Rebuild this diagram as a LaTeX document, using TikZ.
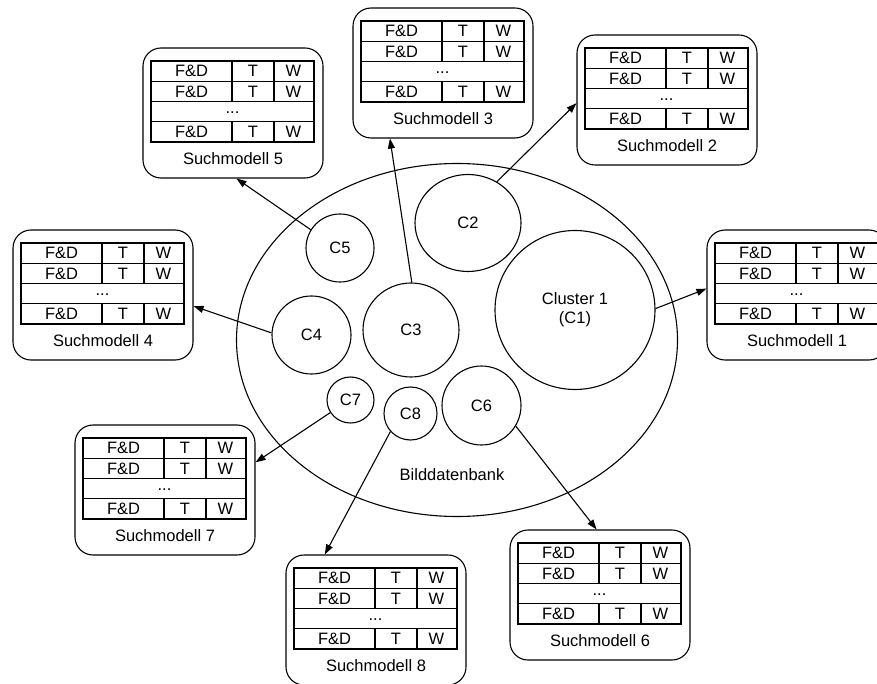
\documentclass[tikz,border=0pt]{standalone}
\usepackage{fontspec}
\setmainfont{Liberation Sans}
\usetikzlibrary{arrows.meta,shapes.geometric}

\begin{document}
\begin{tikzpicture}[
        x=1pt, y=-1pt,
        font=\fontsize{16.5}{19}\selectfont,
        lw/.style={line width=1.1pt},
        cluster/.style={
            draw,
            ellipse,
            lw,
            inner sep=0pt,
            align=center
        },
        modelbox/.style={
            draw,
            lw,
            rounded corners=18pt,
            minimum width=180pt,
            minimum height=130pt,
            inner sep=0pt
        },
        cell/.style={inner sep=0pt},
        arrow/.style={-{Triangle[length=10pt,width=7pt]}, lw}
    ]
        \useasboundingbox (0,0) rectangle (877,684);
        \clip (0,0) rectangle (877,684);

        % database with its clusters
        \node[cluster, minimum width=441pt, minimum height=353pt] (db) at (457,340) {};
        \node (dbname) at (452,475) {Bilddatenbank};
        \node[cluster, minimum width=160pt, minimum height=159pt] (c1) at (575,310) {Cluster 1\\(C1)};
        \node[cluster, minimum width=106pt, minimum height=97pt] (c2) at (468,223) {C2};
        \node[cluster, minimum width=96pt, minimum height=94pt] (c3) at (411,330) {C3};
        \node[cluster, minimum width=79pt, minimum height=78pt] (c4) at (311.5,335) {C4};
        \node[cluster, minimum width=68pt, minimum height=68pt] (c5) at (340,248) {C5};
        \node[cluster, minimum width=79pt, minimum height=79pt] (c6) at (481.5,405.5) {C6};
        \node[cluster, minimum width=47pt, minimum height=46pt] (c7) at (350.5,400) {C7};
        \node[cluster, minimum width=53pt, minimum height=53pt] (c8) at (410.5,413.5) {C8};

        % search models
        \foreach \n/\x/\y in {1/707/230, 2/577/35, 3/353/8, 4/13/230, 5/143/48, 6/510/530, 7/75/425, 8/286/555} {
            \node[modelbox] (sm\n) at (\x+90,\y+65) {};
            \begin{scope}[shift={(\x+8,\y+13)}]
                \draw[lw] (0,0) rectangle (163,81);
                \draw[lw] (0,20.25) -- (163,20.25) (0,40.5) -- (163,40.5) (0,60.75) -- (163,60.75);
                \draw[lw] (81,0) -- (81,40.5) (123,0) -- (123,40.5) (81,60.75) -- (81,81) (123,60.75) -- (123,81);
                \foreach \r/\ry in {1/10.1, 2/30.4, 4/70.9} {
                    \node[cell] (sm\n-fd\r) at (40.5,\ry) {F\&D};
                    \node[cell] (sm\n-t\r) at (102,\ry) {T};
                    \node[cell] (sm\n-w\r) at (142.5,\ry) {W};
                }
                \node[cell] (sm\n-dots) at (81.5,51.5) {...};
                \node (sm\n-label) at (82,98) {Suchmodell \n};
            \end{scope}
        }

        \draw[arrow] (c1.1) -- (sm1.176);
        \draw[arrow] (c2.55) -- (sm2.182);
        \draw[arrow] (c3.89) -- (sm3.-129);
        \draw[arrow] (c4.177) -- (sm4.-7);
        \draw[arrow] (c5.148) -- (sm5.-87);
        \draw[arrow] (c6.-31) -- (sm6.93);
        \draw[arrow] (c7.212) -- (sm7.17);
        \draw[arrow] (c8.222) -- (sm8.128);
    \end{tikzpicture}
\end{document}
